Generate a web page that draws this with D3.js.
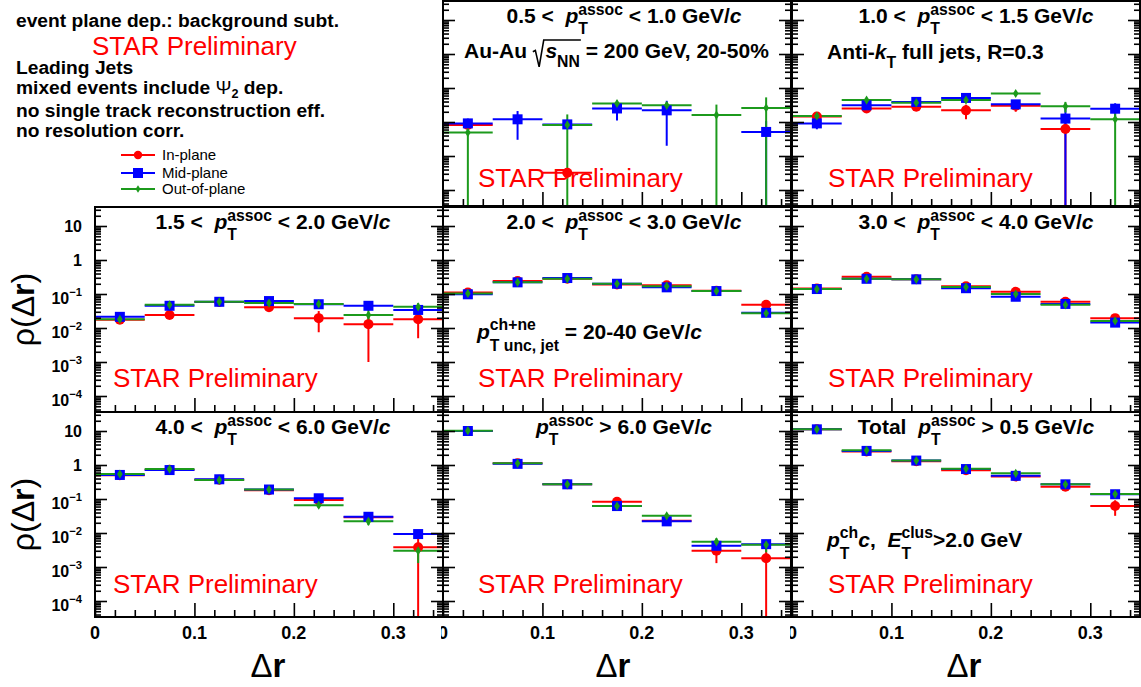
<!DOCTYPE html>
<html>
<head>
<meta charset="utf-8">
<script src="https://cdn.jsdelivr.net/npm/d3@7"></script>
<style>
body { margin: 0; background: #fff; }
svg text { white-space: pre; }
</style>
</head>
<body>
<div id="chart"></div>
<script>
// Δr bins
const binEdges = [0, 0.05, 0.10, 0.15, 0.20, 0.25, 0.30, 0.35];
const seriesNames = ["In-plane", "Mid-plane", "Out-of-plane"];
const xTickLabels = ["0", "0.1", "0.2", "0.3"];

// rho(dr) per panel: [in-plane, mid-plane, out-of-plane], null = not shown (negative)
const pt05_10 = [
	[0.0082, null, 0.00032, null, null, null, null],
	[0.0091, 0.012, 0.0085, 0.025, 0.022, null, 0.0051],
	[0.0049, null, 0.0082, 0.035, 0.031, 0.016, 0.026]];
const pt05_10_err = [
	[0.0006, null, 0.0001, null, null, null, null],
	[0.0035, 0.009, 0.002, 0.014, 0.02, null, 0.0055],
	[0.0052, null, 0.0085, 0.008, 0.007, 0.0165, 0.027]];

const pt10_15 = [
	[0.0145, 0.025, 0.028, 0.022, 0.030, 0.0062, null],
	[0.0091, 0.031, 0.039, 0.051, 0.033, 0.0126, 0.0246],
	[0.015, 0.044, 0.037, 0.044, 0.069, 0.029, 0.012]];
const pt10_15_err = [
	[0.002, 0.003, 0.003, 0.01, 0.01, 0.0065, null],
	[0.003, 0.003, 0.003, 0.006, 0.006, 0.013, 0.011],
	[0.002, 0.006, 0.004, 0.007, 0.006, 0.01, 0.0125]];

const pt15_20 = [
	[0.0174, 0.024, 0.058, 0.041, 0.0195, 0.013, 0.018],
	[0.0213, 0.045, 0.059, 0.062, 0.05, 0.045, 0.034],
	[0.018, 0.048, 0.059, 0.054, 0.051, 0.024, 0.042]];
const pt15_20_err = [
	[0.002, 0.004, 0.004, 0.005, 0.012, 0.012, 0.013],
	[0.002, 0.006, 0.004, 0.006, 0.006, 0.006, 0.006],
	[0.002, 0.008, 0.004, 0.008, 0.008, 0.011, 0.012]];

const pt20_30 = [
	[0.11, 0.24, 0.28, 0.19, 0.18, 0.125, 0.048],
	[0.098, 0.22, 0.295, 0.20, 0.157, 0.122, 0.028],
	[0.104, 0.22, 0.28, 0.20, 0.17, 0.122, 0.027]];
const pt20_30_err = [
	[0.008, 0.01, 0.015, 0.01, 0.01, 0.008, 0.005],
	[0.008, 0.01, 0.015, 0.01, 0.01, 0.008, 0.004],
	[0.012, 0.012, 0.02, 0.012, 0.012, 0.01, 0.006]];

const pt30_40 = [
	[0.145, 0.32, 0.27, 0.17, 0.117, 0.059, 0.0195],
	[0.14, 0.28, 0.27, 0.148, 0.083, 0.051, 0.0144],
	[0.14, 0.28, 0.27, 0.16, 0.10, 0.048, 0.0162]];
const pt30_40_err = [
	[0.01, 0.02, 0.02, 0.012, 0.01, 0.006, 0.003],
	[0.01, 0.02, 0.02, 0.012, 0.008, 0.005, 0.002],
	[0.012, 0.025, 0.02, 0.015, 0.01, 0.007, 0.004]];

const pt40_60 = [
	[0.5, 0.72, 0.37, 0.18, 0.093, 0.029, 0.0038],
	[0.51, 0.71, 0.38, 0.19, 0.105, 0.030, 0.0093],
	[0.54, 0.76, 0.36, 0.19, 0.066, 0.022, 0.0030]];
const pt40_60_err = [
	[0.03, 0.05, 0.05, 0.03, 0.01, 0.004, 0.004],
	[0.03, 0.05, 0.03, 0.02, 0.01, 0.004, 0.001],
	[0.06, 0.1, 0.05, 0.03, 0.012, 0.005, 0.0017]];

const pt60 = [
	[10.0, 1.12, 0.27, 0.083, 0.023, 0.0030, 0.0018],
	[10.0, 1.08, 0.27, 0.062, 0.022, 0.0042, 0.0047],
	[10.2, 1.12, 0.27, 0.062, 0.032, 0.0055, 0.0045]];
const pt60_err = [
	[0.3, 0.05, 0.015, 0.006, 0.002, 0.0017, 0.0019],
	[0.3, 0.05, 0.015, 0.004, 0.002, 0.0008, 0.0008],
	[0.4, 0.08, 0.02, 0.005, 0.004, 0.0015, 0.0018]];

const ptTotal = [
	[11.2, 2.5, 1.3, 0.70, 0.46, 0.23, 0.062],
	[11.2, 2.6, 1.35, 0.76, 0.48, 0.27, 0.138],
	[11.2, 2.7, 1.35, 0.78, 0.57, 0.27, 0.14]];
const ptTotal_err = [
	[0.3, 0.1, 0.05, 0.04, 0.03, 0.02, 0.03],
	[0.3, 0.1, 0.05, 0.04, 0.03, 0.02, 0.01],
	[0.4, 0.15, 0.08, 0.06, 0.06, 0.03, 0.02]];

const pT = [{ i: "p" }, { sup: "assoc", sub: "T" }];
const panels = [
	{ row: 0, col: 1, vals: pt05_10, errs: pt05_10_err, title: ["0.5 <  ", ...pT, " < 1.0 GeV/", { i: "c" }] },
	{ row: 0, col: 2, vals: pt10_15, errs: pt10_15_err, title: ["1.0 <  ", ...pT, " < 1.5 GeV/", { i: "c" }] },
	{ row: 1, col: 0, vals: pt15_20, errs: pt15_20_err, title: ["1.5 <  ", ...pT, " < 2.0 GeV/", { i: "c" }] },
	{ row: 1, col: 1, vals: pt20_30, errs: pt20_30_err, title: ["2.0 <  ", ...pT, " < 3.0 GeV/", { i: "c" }] },
	{ row: 1, col: 2, vals: pt30_40, errs: pt30_40_err, title: ["3.0 <  ", ...pT, " < 4.0 GeV/", { i: "c" }] },
	{ row: 2, col: 0, vals: pt40_60, errs: pt40_60_err, title: ["4.0 <  ", ...pT, " < 6.0 GeV/", { i: "c" }] },
	{ row: 2, col: 1, vals: pt60, errs: pt60_err, title: [...pT, " > 6.0 GeV/", { i: "c" }] },
	{ row: 2, col: 2, vals: ptTotal, errs: ptTotal_err, title: ["Total  ", ...pT, " > 0.5 GeV/", { i: "c" }] }
];

const colors = ["#ff0000", "#0000ff", "#1c9a1c"];
const W = 348, H = 205;
const colX = [95, 443, 792];
const rowY = [1, 207, 412];
const titleX = [273, 624, 976];
const xTitleX = [268, 613, 964];
const starDx = [18, 35, 36];
const starY = [187, 387, 593];
const font = "'Liberation Sans', Arial, Helvetica, sans-serif";

const svg = d3.select("#chart").append("svg")
	.attr("width", 1141).attr("height", 687)
	.style("font-family", font);
svg.append("rect").attr("width", 1141).attr("height", 687).attr("fill", "#fff");

// text with italic parts and stacked sub/superscripts
function rich(sel, x, y, parts, opt) {
	const s = opt.size;
	const sc = opt.scale || 0.75;
	const g = sel.append("g")
		.attr("fill", opt.color || "#000")
		.attr("font-weight", opt.weight || "bold");
	let cx = 0, rootStart = 0;
	function put(txt, px, py, fs, italic, weight) {
		const t = g.append("text").attr("xml:space", "preserve")
			.attr("x", px).attr("y", py).attr("font-size", fs).text(txt);
		if (italic) t.attr("font-style", "italic");
		if (weight) t.attr("font-weight", weight);
		return t.node().getComputedTextLength();
	}
	parts.forEach((p) => {
		if (typeof p === "string") p = { t: p };
		if (p.t != null) cx += put(p.t, cx, 0, s, false, p.w);
		if (p.i != null) cx += put(p.i, cx, 0, s, true, p.w);
		if (p.sup != null || p.sub != null) {
			let w = 0;
			if (p.sup != null) w = Math.max(w, put(p.sup, cx, -s * (opt.up || 0.4), s * sc));
			if (p.sub != null) w = Math.max(w, put(p.sub, cx, s * (opt.down || 0.52), s * sc));
			cx += w;
		}
		if (p.rootOpen) { rootStart = cx; cx += s * 0.6; }
		if (p.rootClose) {
			g.append("path").attr("fill", "none").attr("stroke", opt.color || "#000").attr("stroke-width", 1.6)
				.attr("d", "M" + rootStart + "," + (-s * 0.3) + "L" + (rootStart + s * 0.12) + "," + (-s * 0.36)
					+ "L" + (rootStart + s * 0.3) + "," + (s * 0.42) + "L" + (rootStart + s * 0.52) + "," + (-s * 0.86)
					+ "H" + (cx + 1));
		}
	});
	const shift = opt.anchor === "middle" ? -cx / 2 : opt.anchor === "end" ? -cx : 0;
	g.attr("transform", "translate(" + (x + shift) + "," + y + ")");
	return g;
}

function marker(g, k, cx, cy, legend) {
	if (k === 0) {
		g.append("circle").attr("cx", cx).attr("cy", cy).attr("r", legend ? 4.2 : 5).attr("fill", colors[0]);
	} else if (k === 1) {
		g.append("rect").attr("x", cx - 5).attr("y", cy - 5).attr("width", 10).attr("height", 10).attr("fill", colors[1]);
	} else {
		const a = legend ? 2.4 : 2.8, b = legend ? 3.8 : 4.6;
		g.append("path").attr("fill", colors[2])
			.attr("d", "M" + cx + "," + (cy - b) + "L" + (cx + a) + "," + cy + "L" + cx + "," + (cy + b) + "L" + (cx - a) + "," + cy + "Z");
	}
}

const yMin = Math.pow(10, -4 - 16 / 34), yMax = Math.pow(10, 1 + 19 / 34);
const majorY = [1e-4, 1e-3, 1e-2, 1e-1, 1, 10];
const minorY = [];
for (let d = -5; d <= 1; d++) {
	for (let k = 2; k <= 9; k++) {
		const v = k * Math.pow(10, d);
		if (v > yMin && v < yMax) minorY.push(v);
	}
}
const majorX = [0, 0.1, 0.2, 0.3];
const minorX = [0.02, 0.04, 0.06, 0.08, 0.12, 0.14, 0.16, 0.18, 0.22, 0.24, 0.26, 0.28, 0.32, 0.34];

function styleAxis(a) {
	a.select(".domain").remove();
	a.selectAll("line").attr("stroke", "#000").attr("stroke-width", 1.6);
}

panels.forEach((p, idx) => {
	const x0 = colX[p.col], y0 = rowY[p.row];
	const x = d3.scaleLinear().domain([0, 0.35]).range([x0, x0 + W]);
	const y = d3.scaleLog().domain([yMin, yMax]).range([y0 + H, y0]);
	const g = svg.append("g");

	g.append("clipPath").attr("id", "clip" + idx)
		.append("rect").attr("x", x0).attr("y", y0).attr("width", W).attr("height", H);
	const data = g.append("g").attr("clip-path", "url(#clip" + idx + ")");

	[0, 1, 2].forEach((k) => {
		const s = data.append("g").attr("stroke", colors[k]).attr("stroke-width", 2);
		p.vals[k].forEach((v, b) => {
			if (v == null) return;
			const e = p.errs[k][b];
			s.append("line").attr("x1", x(binEdges[b])).attr("x2", x(binEdges[b + 1]))
				.attr("y1", y(v)).attr("y2", y(v));
			const lo = v - e > yMin ? y(v - e) : y0 + H + 2;
			const xc = x((binEdges[b] + binEdges[b + 1]) / 2);
			s.append("line").attr("x1", xc).attr("x2", xc).attr("y1", lo).attr("y2", y(v + e));
		});
	});
	[0, 1, 2].forEach((k) => {
		const m = data.append("g");
		p.vals[k].forEach((v, b) => {
			if (v == null) return;
			marker(m, k, x((binEdges[b] + binEdges[b + 1]) / 2), y(v), false);
		});
	});

	// axes: ticks inside the frame
	styleAxis(g.append("g").attr("transform", "translate(" + x0 + ",0)")
		.call(d3.axisLeft(y).tickValues(majorY).tickSize(-12).tickFormat("")));
	styleAxis(g.append("g").attr("transform", "translate(" + x0 + ",0)")
		.call(d3.axisLeft(y).tickValues(minorY).tickSize(-6).tickFormat("")));
	styleAxis(g.append("g").attr("transform", "translate(" + (x0 + W) + ",0)")
		.call(d3.axisRight(y).tickValues(majorY).tickSize(-12).tickFormat("")));
	styleAxis(g.append("g").attr("transform", "translate(" + (x0 + W) + ",0)")
		.call(d3.axisRight(y).tickValues(minorY).tickSize(-6).tickFormat("")));
	styleAxis(g.append("g").attr("transform", "translate(0," + (y0 + H) + ")")
		.call(d3.axisBottom(x).tickValues(majorX).tickSize(-14).tickFormat("")));
	styleAxis(g.append("g").attr("transform", "translate(0," + (y0 + H) + ")")
		.call(d3.axisBottom(x).tickValues(minorX).tickSize(-7).tickFormat("")));

	g.append("rect").attr("x", x0).attr("y", y0).attr("width", W).attr("height", H)
		.attr("fill", "none").attr("stroke", "#000").attr("stroke-width", 2);

	rich(g, titleX[p.col], y0 + 22, p.title, { size: 21, anchor: "middle" });
	g.append("text").attr("x", x0 + starDx[p.col]).attr("y", starY[p.row])
		.attr("font-size", 26).attr("fill", "#ff0000").text("STAR Preliminary");

	if (p.col === 0) {
		majorY.forEach((v) => {
			const ty = y(v);
			if (v >= 1) {
				g.append("text").attr("x", 82).attr("y", ty + 6).attr("text-anchor", "end")
					.attr("font-size", 16).attr("font-weight", "bold").text(v === 1 ? "1" : "10");
			} else {
				rich(g, 82, ty + 10, ["10", { sup: "\u2212" + Math.round(-Math.log10(v)) }],
					{ size: 16, anchor: "end", up: 0.5, scale: 0.7 });
			}
		});
		svg.append("text")
			.attr("transform", "translate(34," + (y0 + H / 2) + ") rotate(-90)")
			.attr("text-anchor", "middle").attr("font-size", 32)
			.call((t) => {
				t.append("tspan").text("\u03c1(\u0394");
				t.append("tspan").attr("font-weight", "bold").text("r");
				t.append("tspan").text(")");
			});
	}

	if (p.row === 2) {
		const lab = svg.append("g");
		if (p.col > 0) {
			svg.append("clipPath").attr("id", "xl" + idx)
				.append("rect").attr("x", x0 - 2).attr("y", y0 + H).attr("width", W + 2).attr("height", 40);
			lab.attr("clip-path", "url(#xl" + idx + ")");
		}
		majorX.forEach((v, i) => {
			lab.append("text").attr("x", x(v)).attr("y", 639).attr("text-anchor", "middle")
				.attr("font-size", 18).attr("font-weight", "bold").text(xTickLabels[i]);
		});
		svg.append("text").attr("x", xTitleX[p.col]).attr("y", 677).attr("text-anchor", "middle")
			.attr("font-size", 33)
			.call((t) => {
				t.append("tspan").text("\u0394");
				t.append("tspan").attr("font-weight", "bold").text("r");
			});
	}
});

// extra labels inside panels
rich(svg, 464, 58, ["Au-Au ", { rootOpen: true }, { i: "s" }, { sub: "NN" }, { rootClose: true }, " = 200 GeV, 20-50%"],
	{ size: 21, down: 0.45 });
rich(svg, 827, 59, ["Anti-", { i: "k" }, { sub: "T" }, " full jets, R=0.3"], { size: 21, down: 0.45 });
rich(svg, 477, 339, [{ i: "p" }, { sup: "ch+ne", sub: "T unc, jet" }, " = 20-40 GeV/", { i: "c" }],
	{ size: 21, up: 0.42, down: 0.58 });
rich(svg, 827, 547, [{ i: "p" }, { sup: "ch", sub: "T" }, { i: "c" }, ",  ", { i: "E" }, { sup: "clus", sub: "T" }, ">2.0 GeV"],
	{ size: 21, up: 0.42, down: 0.55 });

// top-left notes and legend
const notes = svg.append("g").attr("font-weight", "bold").attr("font-size", 19.2);
notes.append("text").attr("x", 16).attr("y", 27).text("event plane dep.: background subt.");
svg.append("text").attr("x", 92).attr("y", 55).attr("font-size", 26).attr("fill", "#ff0000").text("STAR Preliminary");
notes.append("text").attr("x", 16).attr("y", 74).text("Leading Jets");
rich(svg, 16, 94, ["mixed events include ", { t: "\u03a8", w: "normal" }, { sub: "2" }, " dep."],
	{ size: 19.2, down: 0.2, scale: 0.66 });
notes.append("text").attr("x", 16).attr("y", 117).text("no single track reconstruction eff.");
notes.append("text").attr("x", 16).attr("y", 137).text("no resolution corr.");

const legendY = [155, 173, 189];
const legend = svg.append("g");
seriesNames.forEach((name, k) => {
	legend.append("line").attr("x1", 121).attr("x2", 155).attr("y1", legendY[k]).attr("y2", legendY[k])
		.attr("stroke", colors[k]).attr("stroke-width", 2);
	marker(legend, k, 138, legendY[k], true);
	legend.append("text").attr("x", 162).attr("y", legendY[k] + 5).attr("font-size", 15).text(name);
});
</script>
</body>
</html>
